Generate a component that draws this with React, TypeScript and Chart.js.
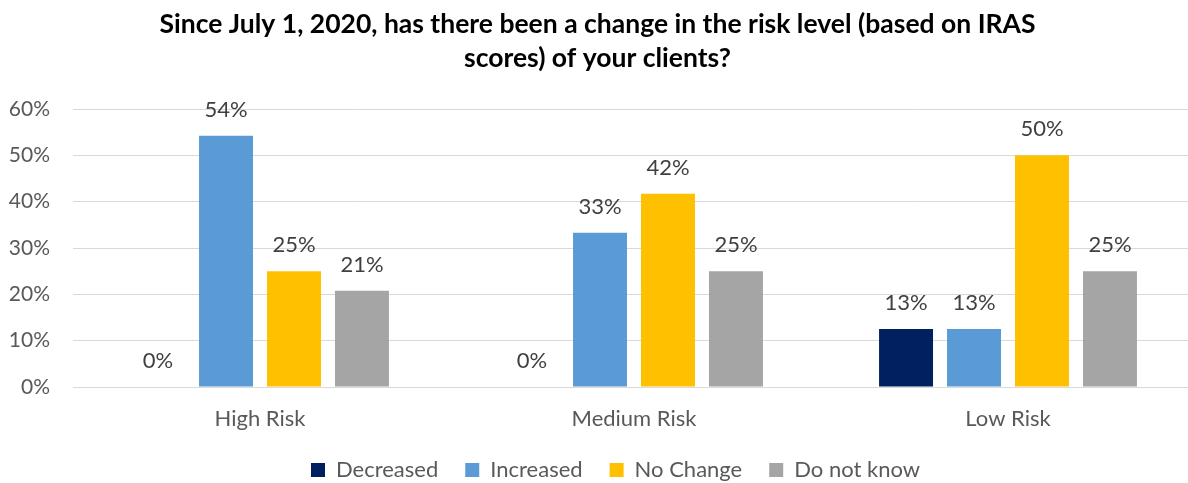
import React, { useEffect, useRef } from "react";
import { Chart, registerables } from "chart.js";

Chart.register(...registerables);

const categories = ["High Risk", "Medium Risk", "Low Risk"];
const seriesNames = ["Decreased", "Increased", "No Change", "Do not know"];
const decreased = [0, 0, 12.5];
const increased = [54.2, 33.3, 12.5];
const noChange = [25.0, 41.7, 50.0];
const doNotKnow = [20.8, 25.0, 25.0];
const colors = ["#002060", "#5B9BD5", "#FFC000", "#A5A5A5"];
const yTicks = [0, 10, 20, 30, 40, 50, 60];
const titleLines = [
  "Since July 1, 2020, has there been a change in the risk level (based on IRAS",
  "scores) of your clients?",
];

const FONT = "Lato";

const dataLabelPlugin = {
  id: "dataLabels",
  afterDatasetsDraw(chart: any) {
    const ctx = chart.ctx;
    ctx.save();
    ctx.font = `22px ${FONT}`;
    ctx.fillStyle = "#404040";
    ctx.textAlign = "center";
    ctx.textBaseline = "middle";
    chart.data.datasets.forEach((ds: any, i: number) => {
      const meta = chart.getDatasetMeta(i);
      meta.data.forEach((el: any, j: number) => {
        const v = ds.data[j];
        ctx.fillText(Math.round(v) + "%", el.x, el.y - 26);
      });
    });
    ctx.restore();
  },
};

const legendShiftPlugin = {
  id: "legendShift",
  afterLayout(chart: any) {
    if (chart.legend) {
      chart.legend.left += 18;
      chart.legend.right += 18;
    }
  },
};

export default function App() {
  const ref = useRef<HTMLCanvasElement>(null);
  useEffect(() => {
    document.body.style.overflow = "hidden";
    const seriesData = [decreased, increased, noChange, doNotKnow];
    const chart = new Chart(ref.current!, {
      type: "bar",
      data: {
        labels: categories,
        datasets: seriesNames.map((name, i) => ({
          label: name,
          data: seriesData[i],
          backgroundColor: colors[i],
          borderWidth: 0,
          categoryPercentage: 0.727,
          barPercentage: 0.794,
        })),
      },
      options: {
        responsive: false,
        animation: false,
        layout: { padding: { left: 0, right: 0, top: 0, bottom: 0 } },
        plugins: {
          title: {
            display: true,
            text: titleLines,
            color: "#000000",
            font: { family: FONT, size: 26.5, weight: "bold", lineHeight: "34px" },
            padding: { top: 7, bottom: 34 },
          },
          legend: {
            position: "bottom",
            labels: {
              color: "#595959",
              font: { family: FONT, size: 22 },
              boxWidth: 14,
              boxHeight: 14,
              padding: 27,
            },
          },
          tooltip: { enabled: false },
        },
        scales: {
          x: {
            grid: { display: false, drawTicks: false },
            border: { display: true, color: "#D9D9D9", width: 1 },
            ticks: { color: "#595959", font: { family: FONT, size: 22 }, padding: 19 },
            afterFit(scale: any) {
              scale.height = 45;
            },
          },
          y: {
            min: 0,
            max: 60,
            grid: { color: "#D9D9D9", drawTicks: false, lineWidth: 1 },
            border: { display: false },
            afterBuildTicks(scale: any) {
              scale.ticks = yTicks.map((v) => ({ value: v }));
            },
            ticks: {
              color: "#595959",
              font: { family: FONT, size: 21 },
              padding: 23,
              callback: (v: any) => v + "%",
            },
            afterFit(scale: any) {
              scale.width = 73;
            },
          },
        },
      },
      plugins: [dataLabelPlugin, legendShiftPlugin],
    } as any);
    return () => chart.destroy();
  }, []);
  return (
    <div style={{ position: "fixed", left: 0, top: 0, width: 1195, height: 491, background: "#fff" }}>
      <canvas ref={ref} width={1195} height={491} style={{ width: 1195, height: 491 }} />
    </div>
  );
}
